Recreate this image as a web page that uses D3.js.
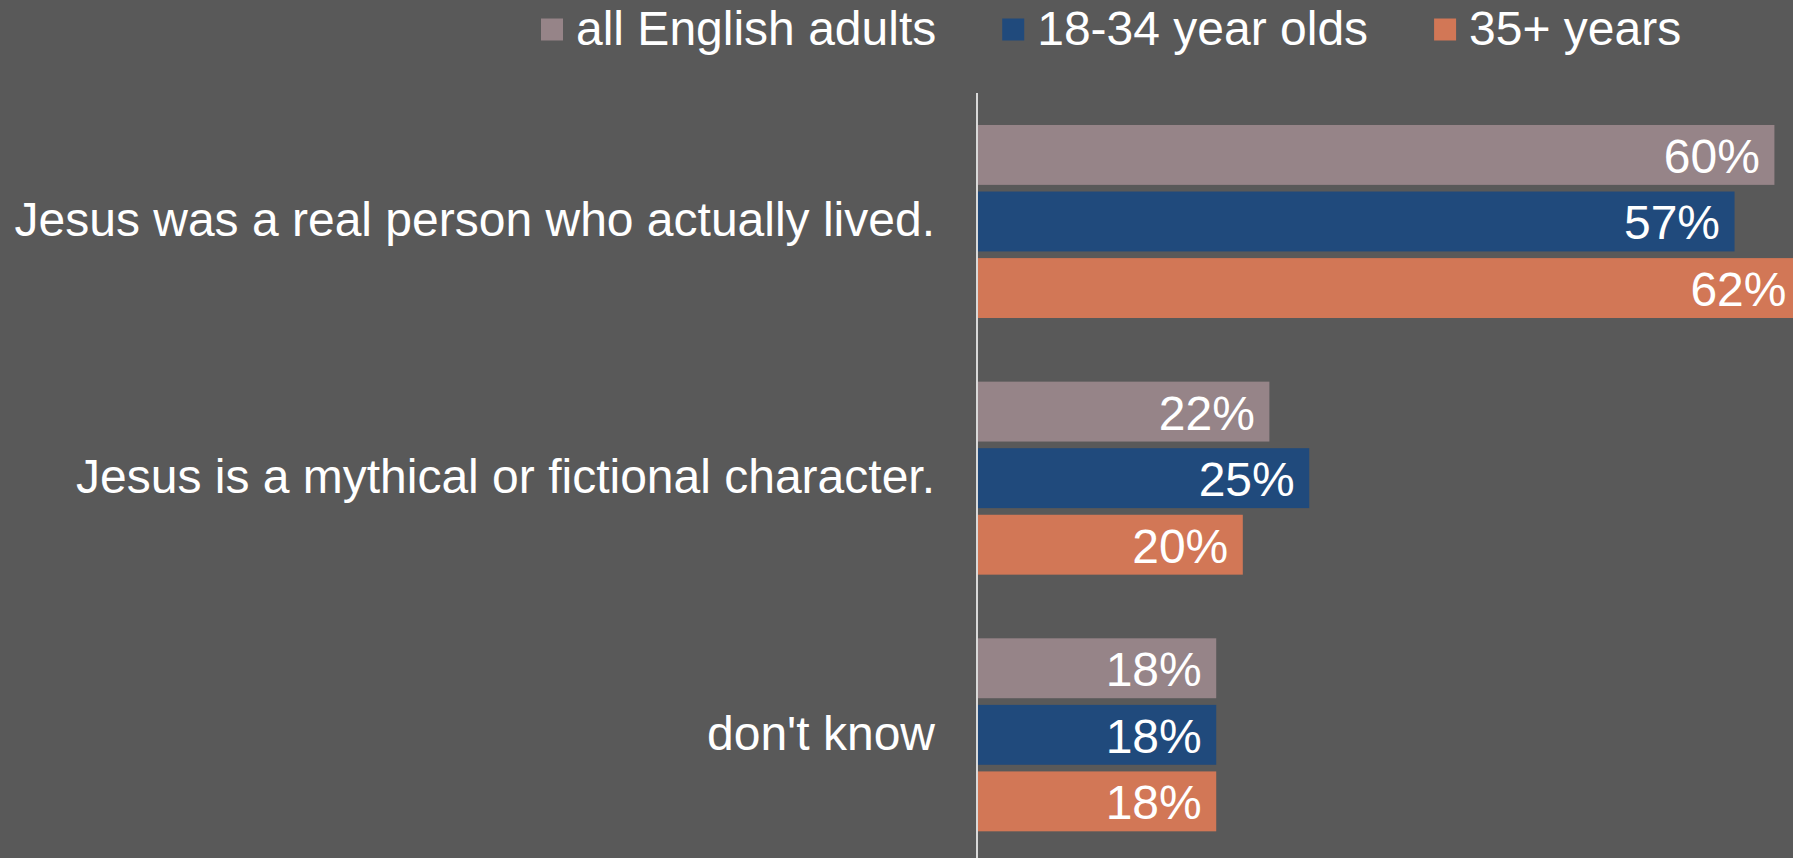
<!DOCTYPE html>
<html>
<head>
<meta charset="utf-8">
<script src="https://cdn.jsdelivr.net/npm/d3@7"></script>
<style>
  html, body { margin: 0; padding: 0; background: #595959; overflow: hidden; }
  svg { display: block; }
  text { font-family: "Liberation Sans", Arial, Helvetica, sans-serif; fill: #ffffff; }
</style>
</head>
<body>
<svg id="chart" width="1793" height="858"></svg>
<script>
const categories = [
  "Jesus was a real person who actually lived.",
  "Jesus is a mythical or fictional character.",
  "don't know"
];
const seriesNames = ["all English adults", "18-34 year olds", "35+ years"];
const allAdults = [60, 22, 18];
const age18to34 = [57, 25, 18];
const age35plus = [62, 20, 18];
const seriesColors = ["#968488", "#204a7c", "#d27756"];

const seriesValues = [allAdults, age18to34, age35plus];

const W = 1793, H = 858;
const FONT = '"Liberation Sans", Arial, Helvetica, sans-serif';
const svg = d3.select("#chart");
svg.append("rect").attr("width", W).attr("height", H).attr("fill", "#595959");

const x = d3.scaleLinear().domain([0, 62]).range([977, 1801]);
const y0 = d3.scaleBand().domain(categories).range([93.15, 863.15])
  .paddingInner(0.248).paddingOuter(0.124);
const y1 = d3.scaleBand().domain(seriesNames).range([0, y0.bandwidth()])
  .paddingInner(0.1).paddingOuter(0);

const rows = [];
categories.forEach((c, i) => {
  seriesNames.forEach((s, j) => {
    rows.push({ cat: c, series: s, value: seriesValues[j][i], color: seriesColors[j] });
  });
});

const g = svg.append("g");
g.selectAll("rect.bar").data(rows).join("rect")
  .attr("class", "bar")
  .attr("x", x(0))
  .attr("y", d => y0(d.cat) + y1(d.series))
  .attr("width", d => x(d.value) - x(0))
  .attr("height", y1.bandwidth())
  .attr("fill", d => d.color);

g.selectAll("text.val").data(rows).join("text")
  .attr("class", "val")
  .attr("x", d => x(d.value) - 14.5)
  .attr("y", d => y0(d.cat) + y1(d.series) + y1.bandwidth() / 2 + 18)
  .attr("text-anchor", "end")
  .attr("font-size", 48)
  .style("font-family", FONT)
  .text(d => d.value + "%");

// category axis
const yAxis = d3.axisLeft(y0).tickSize(0).tickPadding(42);
const ax = svg.append("g").attr("transform", `translate(${x(0)},0)`).call(yAxis);
ax.attr("font-family", null);
ax.select(".domain").remove();
ax.selectAll("text")
  .attr("font-size", 48)
  .attr("fill", "#ffffff")
  .attr("dy", null)
  .attr("y", 15)
  .style("font-family", FONT);

// vertical axis line
svg.append("line")
  .attr("x1", x(0)).attr("x2", x(0))
  .attr("y1", 93).attr("y2", H)
  .attr("stroke", "#d9d9d9").attr("stroke-width", 2);

// legend
const legend = svg.append("g");
let lx = 541;
seriesNames.forEach((s, i) => {
  legend.append("rect").attr("x", lx).attr("y", 18.5).attr("width", 22).attr("height", 22)
    .attr("fill", seriesColors[i]);
  const t = legend.append("text").attr("x", lx + 35).attr("y", 45)
    .attr("font-size", 48).style("font-family", FONT).text(s);
  const w = t.node().getComputedTextLength();
  lx = lx + 35 + w + 66;
});
</script>
</body>
</html>
